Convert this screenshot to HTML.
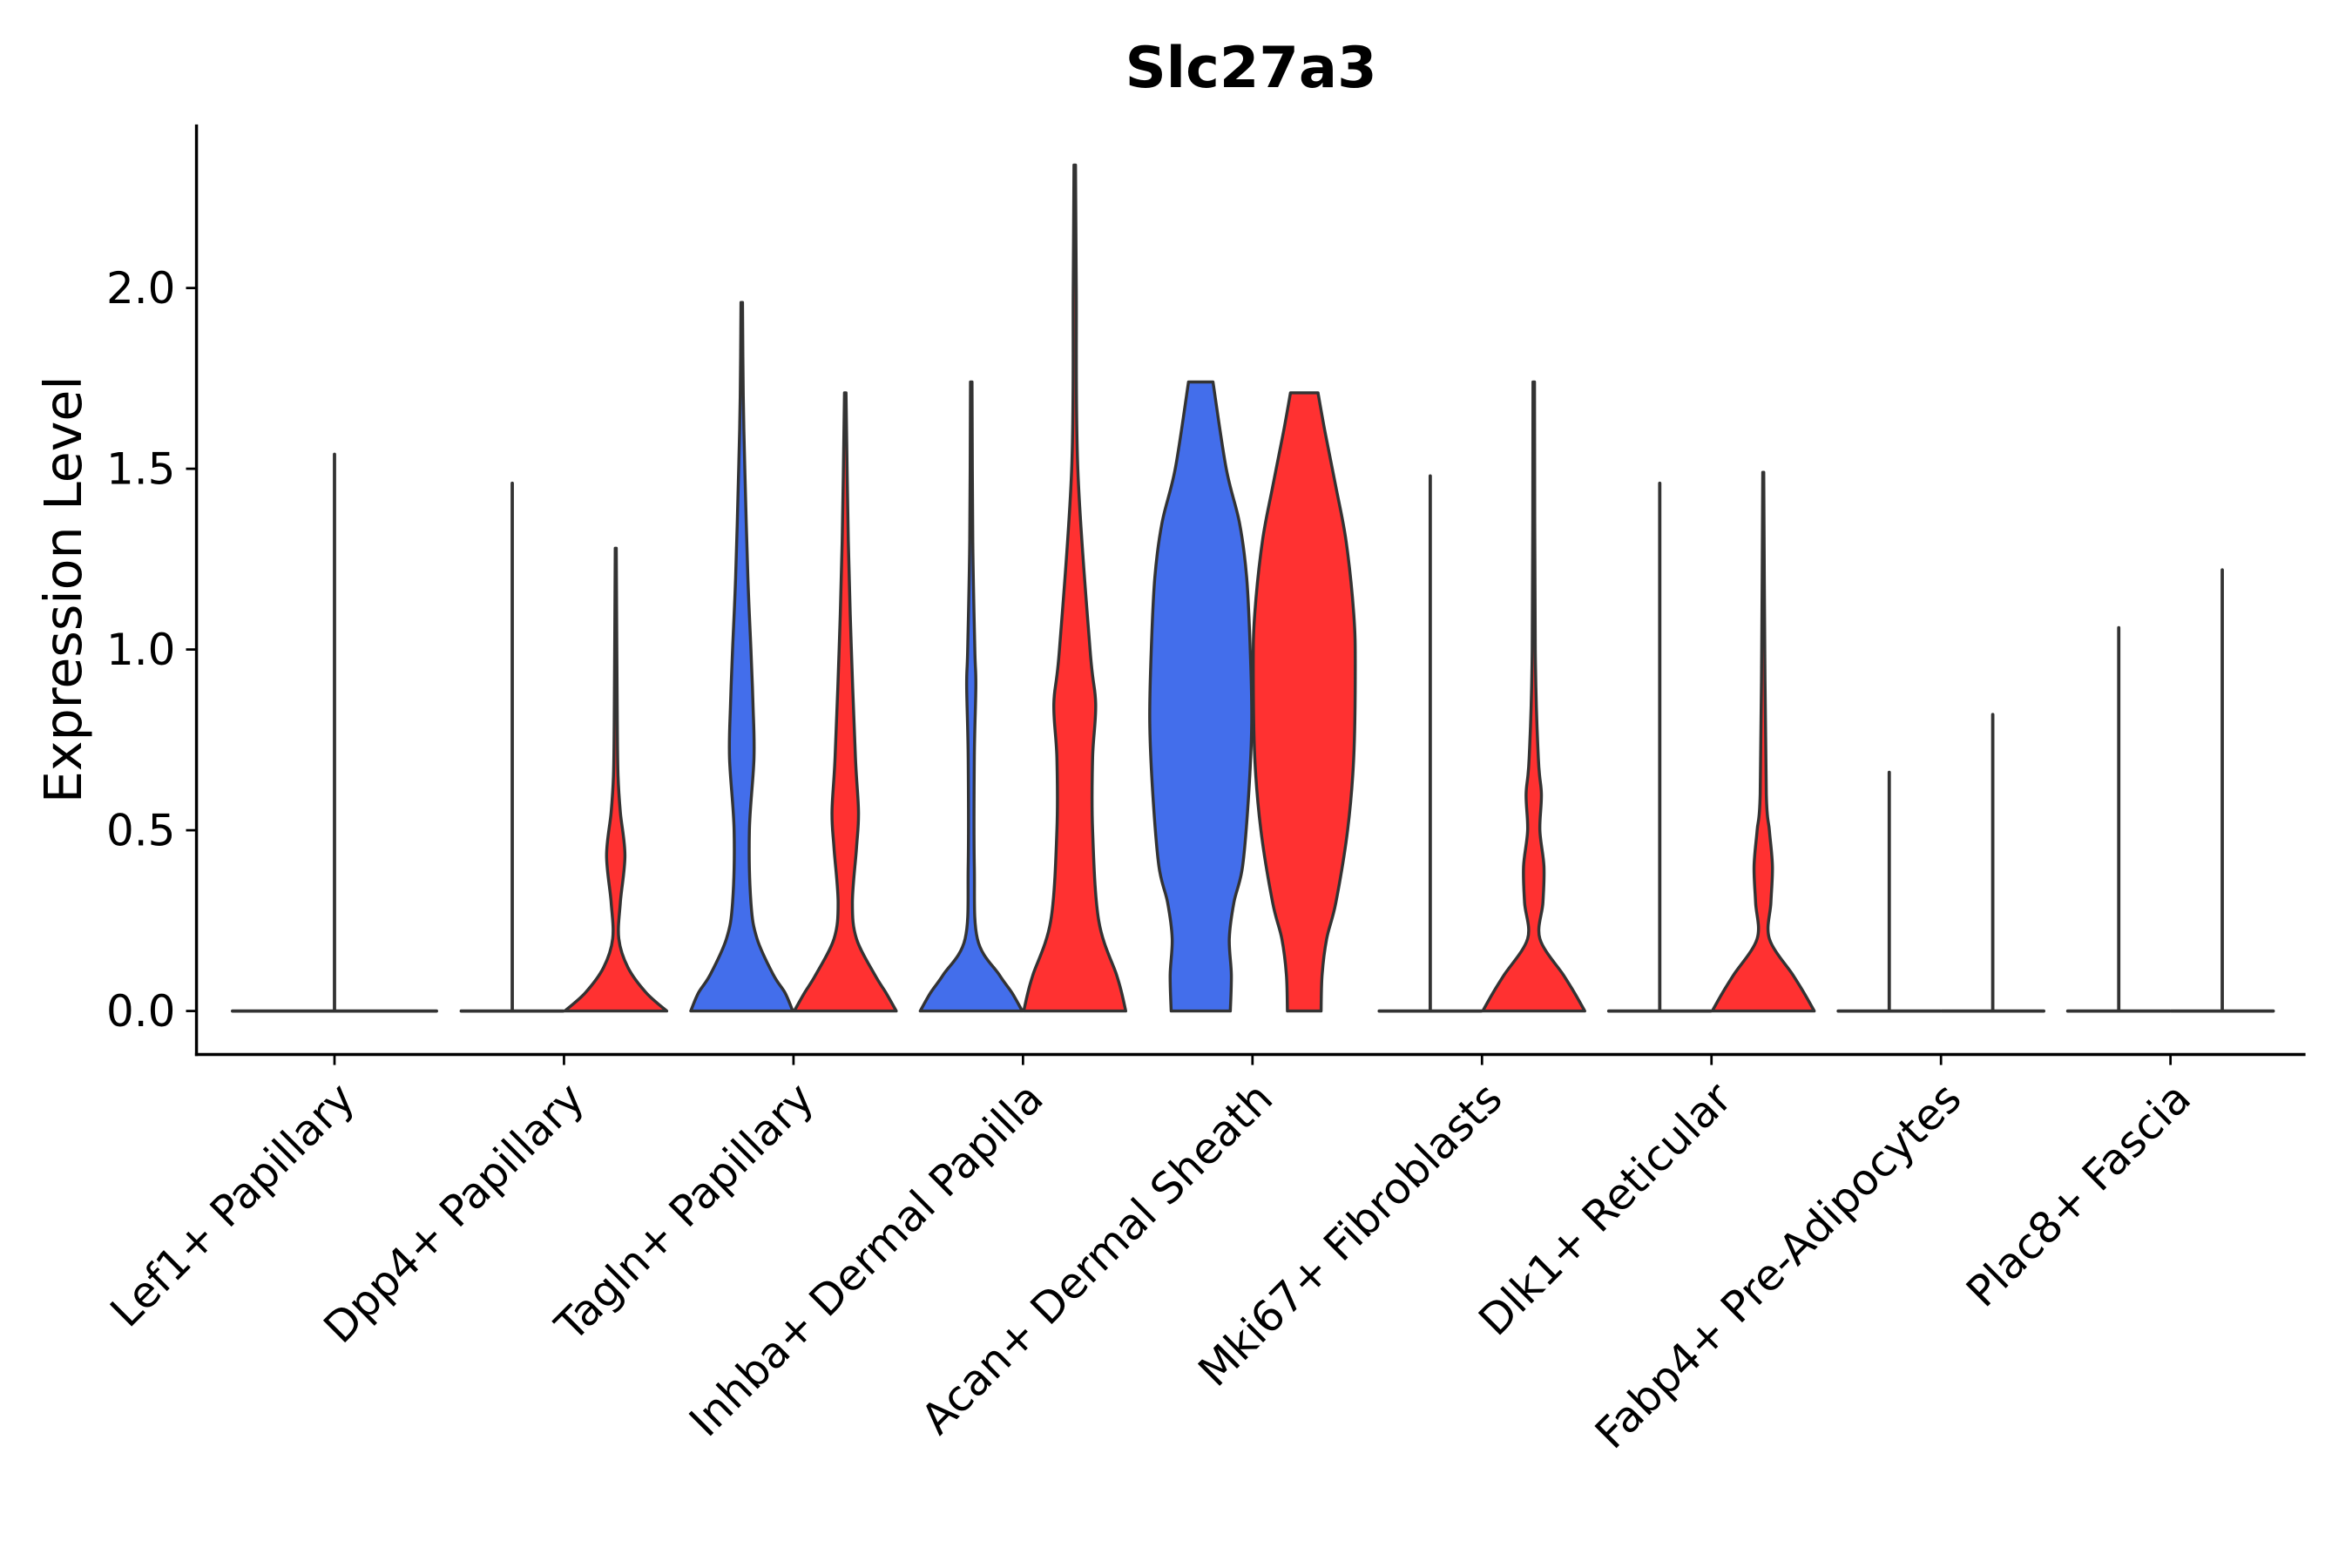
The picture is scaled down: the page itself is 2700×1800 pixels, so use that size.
<!DOCTYPE html>
<html><head><meta charset="utf-8"><style>
html,body{margin:0;padding:0;background:#fff;}
svg{display:block;font-family:"DejaVu Sans","Liberation Sans",sans-serif;}
</style></head><body>
<svg id="chart" width="2700" height="1800" viewBox="0 0 1568 1045.33" xmlns="http://www.w3.org/2000/svg">
<rect width="1568" height="1046" fill="#fff"/>
<text x="834" y="58" text-anchor="middle" font-size="38" font-weight="bold">Slc27a3</text>
<text transform="translate(54,393) rotate(-90)" text-anchor="middle" font-size="34">Expression Level</text>
<g id="plot"></g>
</svg>
<script>
const categories = ["Lef1+ Papillary","Dpp4+ Papillary","Tagln+ Papillary","Inhba+ Dermal Papilla","Acan+ Dermal Sheath","Mki67+ Fibroblasts","Dlk1+ Reticular","Fabp4+ Pre-Adipocytes","Plac8+ Fascia"];
const yTicks = [0, 0.5, 1.0, 1.5, 2.0];
const yTickLabels = ["0.0","0.5","1.0","1.5","2.0"];
const maxG1 = [1.54, 1.46, 1.96, 1.74, 1.74, 1.48, 1.46, 0.66, 1.06];
const maxG2 = [1.54, 1.28, 1.71, 2.34, 1.71, 1.74, 1.49, 0.82, 1.22];
const profG1 = [
  null, null,
  [[0,1],[0.05,0.85],[0.1,0.62],[0.2,0.3],[0.3,0.18],[0.5,0.15],[0.7,0.24],[0.85,0.22],[1.0,0.18],[1.2,0.12],[1.5,0.06],[1.7,0.03],[1.96,0.015]],
  [[0,1],[0.05,0.8],[0.1,0.55],[0.2,0.12],[0.4,0.06],[0.7,0.06],[0.9,0.09],[1.0,0.07],[1.3,0.03],[1.74,0.015]],
  [[0,0.58],[0.1,0.6],[0.2,0.56],[0.3,0.65],[0.4,0.82],[0.6,0.94],[0.8,1.0],[1.0,0.97],[1.2,0.9],[1.35,0.76],[1.5,0.5],[1.74,0.24]],
  null, null, null, null
];
const profG2 = [
  null,
  [[0,1],[0.05,0.6],[0.12,0.24],[0.2,0.06],[0.3,0.09],[0.43,0.18],[0.55,0.09],[0.65,0.045],[0.8,0.03],[1.28,0.01]],
  [[0,1],[0.05,0.8],[0.1,0.58],[0.2,0.22],[0.3,0.14],[0.45,0.22],[0.55,0.26],[0.7,0.2],[1.0,0.12],[1.3,0.06],[1.71,0.015]],
  [[0,1],[0.05,0.92],[0.1,0.82],[0.25,0.47],[0.5,0.35],[0.7,0.35],[0.85,0.41],[1.0,0.3],[1.5,0.06],[2.0,0.03],[2.34,0.015]],
  [[0,0.33],[0.1,0.35],[0.2,0.44],[0.3,0.62],[0.5,0.85],[0.7,0.97],[0.95,1.0],[1.1,0.97],[1.3,0.82],[1.45,0.62],[1.6,0.41],[1.71,0.27]],
  [[0,1],[0.05,0.8],[0.1,0.58],[0.2,0.12],[0.3,0.18],[0.4,0.2],[0.5,0.12],[0.6,0.15],[0.7,0.09],[1.0,0.03],[1.74,0.015]],
  [[0,1],[0.05,0.8],[0.1,0.58],[0.2,0.12],[0.3,0.15],[0.4,0.18],[0.5,0.12],[0.6,0.06],[1.0,0.03],[1.49,0.01]],
  null, null
];
const flatSingle = [true,false,false,false,false,false,false,false,false];

const NS = "http://www.w3.org/2000/svg";
const plot = document.getElementById('plot');
const X0 = 131, X1 = 1537, Y0 = 703, YT = 83;
const yZero = 674, yPerUnit = 241;
const yScale = v => yZero - v * yPerUnit;
const xCenter = i => 223 + i * 153;
const HW = 34, OFF = 34.5;

function mk(tag, attrs){const e=document.createElementNS(NS,tag);for(const k in attrs)e.setAttribute(k,attrs[k]);plot.appendChild(e);return e;}

function cr(arr){
  let d = "";
  for(let i=0;i<arr.length-1;i++){
    const p0=arr[Math.max(i-1,0)],p1=arr[i],p2=arr[i+1],p3=arr[Math.min(i+2,arr.length-1)];
    const c1=[p1[0]+(p2[0]-p0[0])/6,p1[1]+(p2[1]-p0[1])/6];
    const c2=[p2[0]-(p3[0]-p1[0])/6,p2[1]-(p3[1]-p1[1])/6];
    d+=` C${c1[0].toFixed(2)},${c1[1].toFixed(2)} ${c2[0].toFixed(2)},${c2[1].toFixed(2)} ${p2[0].toFixed(2)},${p2[1].toFixed(2)}`;
  }
  return d;
}
function violinPath(cx, prof){
  const right = prof.map(p=>[cx + p[1]*HW, yScale(p[0])]);
  const left = prof.slice().reverse().map(p=>[cx - p[1]*HW, yScale(p[0])]);
  let d = `M${left[left.length-1][0]},${left[left.length-1][1]} L${right[0][0]},${right[0][1]}` + cr(right);
  d += ` L${left[0][0]},${left[0][1]}` + cr(left) + " Z";
  return d;
}

function drawViolin(cx, maxV, prof, color, name, hw){
  if(prof){
    const last = prof[prof.length-1];
    const full = last[0] < maxV ? prof.concat([[maxV, last[1]*0.5]]) : prof;
    const p = mk('path',{d:violinPath(cx, full), fill:color, stroke:'#333', 'stroke-width':2, 'stroke-linejoin':'round'});
    
    
  } else {
    const g = mk('path',{d:`M${cx-hw},${yScale(0)} L${cx+hw},${yScale(0)} M${cx},${yScale(0)} L${cx},${yScale(maxV)}`, fill:'none', stroke:'#333', 'stroke-width':2.2, 'stroke-linecap':'round'});
    
    
  }
}

categories.forEach((c,i)=>{
  const cx = xCenter(i);
  if(flatSingle[i]){
    drawViolin(cx, maxG1[i], null, '#fff', 'violin-'+i+'-single', 68);
    return;
  }
  drawViolin(cx-OFF, maxG1[i], profG1[i], '#436EEB', 'violin-'+i+'-blue', HW);
  drawViolin(cx+OFF, maxG2[i], profG2[i], '#FF3131', 'violin-'+i+'-red', HW);
});

const ya = mk('line',{x1:X0,y1:YT,x2:X0,y2:Y0+1,stroke:'#000','stroke-width':2});


const xa = mk('line',{x1:X0-1,y1:Y0,x2:X1,y2:Y0,stroke:'#000','stroke-width':2});



yTicks.forEach((v,i)=>{
  const y = yScale(v);
  const t = mk('line',{x1:X0-7,y1:y,x2:X0,y2:y,stroke:'#000','stroke-width':1.6});
  
  
  const tx = mk('text',{x:X0-14,y:y+10,'text-anchor':'end','font-size':29,fill:'#000'});
  tx.textContent = yTickLabels[i];
  
  
});

categories.forEach((c,i)=>{
  const x = xCenter(i);
  const t = mk('line',{x1:x,y1:Y0,x2:x,y2:Y0+7,stroke:'#000','stroke-width':1.6});
  
  
  const tx = mk('text',{transform:`translate(${x+15},${Y0+31}) rotate(-45)`,'text-anchor':'end','font-size':28.5,fill:'#000'});
  tx.textContent = c;
  
  
});
</script>
</body></html>
